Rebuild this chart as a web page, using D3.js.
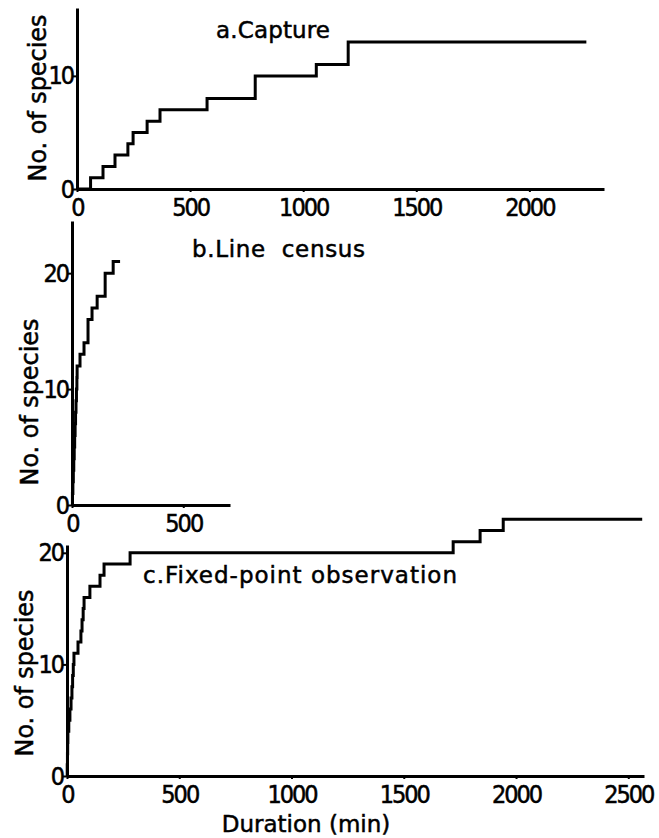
<!DOCTYPE html>
<html>
<head>
<meta charset="utf-8">
<script src="https://cdn.jsdelivr.net/npm/d3@7"></script>
<style>
  html, body { margin: 0; padding: 0; background: #fff; }
  svg { display: block; }
  .tick text { font-family: "DejaVu Sans Condensed", "DejaVu Sans", sans-serif; font-size: 25px; letter-spacing: -2px; fill: #000; stroke: #000; stroke-width: 0.5px; }
  .lbl { font-family: "DejaVu Sans", sans-serif; fill: #000; stroke: #000; stroke-width: 0.5px; white-space: pre; }
</style>
</head>
<body>
<script>
// ---- Data ----
const captureTime    = [0, 60, 115, 168, 225, 248, 310, 367, 575, 788, 1058, 1199, 2252];
const captureSpecies = [0, 1,  2,   3,   4,   5,   6,   7,   8,   10,  11,   13,   13];

const lineTime    = [0, 2, 4, 6, 8, 10, 12, 14, 16, 18, 20, 22, 23, 36, 54, 72, 90, 113, 149, 185, 216];
const lineSpecies = [0, 1, 2, 3, 4, 5,  6,  7,  8,  9,  10, 11, 12, 13, 14, 16, 17, 18,  20,  21,  21];

const fixedTime    = [0, 1, 2, 3, 4, 8, 13, 18, 22, 25, 28, 31, 49, 62, 67, 72, 76, 102, 147, 165, 281, 1720, 1840, 1943, 2562];
const fixedSpecies = [0, 1, 2, 3, 4, 5, 6,  7,  8,  9,  10, 11, 12, 13, 14, 15, 16, 17,  18,  19,  20,  21,   22,   23,   23];

const captureXTicks = [0, 500, 1000, 1500, 2000];
const captureYTicks = [0, 10];
const lineXTicks = [0, 500];
const lineYTicks = [0, 10, 20];
const fixedXTicks = [0, 500, 1000, 1500, 2000, 2500];
const fixedYTicks = [0, 10, 20];

const panelTitles = ["a.Capture", "b.Line  census", "c.Fixed-point observation"];
const yTitle = "No. of species";
const xTitle = "Duration (min)";

// ---- Layout ----
const W = 659, H = 838;
const svg = d3.select("body").append("svg").attr("width", W).attr("height", H);

const panels = [
  { time: captureTime, species: captureSpecies, xTicks: captureXTicks, yTicks: captureYTicks,
    xDomain: [0, 2330], xRange: [77, 604], yDomain: [0, 16], yRange: [189, 8],
    title: panelTitles[0], tx: 216, ty: 38, tw: 114, ylx: 38, yly: 98 },
  { time: lineTime, species: lineSpecies, xTicks: lineXTicks, yTicks: lineYTicks,
    xDomain: [0, 710], xRange: [72, 230], yDomain: [0, 24.5], yRange: [505, 221],
    title: panelTitles[1], tx: 192, ty: 257, tw: 173, ylx: 30, yly: 402 },
  { time: fixedTime, species: fixedSpecies, xTicks: fixedXTicks, yTicks: fixedYTicks,
    xDomain: [0, 2570], xRange: [67, 644], yDomain: [0, 20.7], yRange: [776, 545],
    title: panelTitles[2], tx: 143, ty: 583, tw: 314, ylx: 25, yly: 673 }
];

panels.forEach(p => {
  const x = d3.scaleLinear().domain(p.xDomain).range(p.xRange);
  const y = d3.scaleLinear().domain(p.yDomain).range(p.yRange);
  const g = svg.append("g");

  const pts = p.time.map((t, i) => [t, p.species[i]]);
  g.append("path")
    .datum(pts)
    .attr("fill", "none")
    .attr("stroke", "#000")
    .attr("stroke-width", 3)
    .attr("stroke-linejoin", "miter")
    .attr("d", d3.line().x(d => x(d[0])).y(d => y(d[1])).curve(d3.curveStepAfter));

  const xa = g.append("g")
    .attr("transform", `translate(0,${p.yRange[0]})`)
    .call(d3.axisBottom(x).tickValues(p.xTicks).tickFormat(d3.format("d")).tickSize(3).tickSizeOuter(0).tickPadding(6));
  const ya = g.append("g")
    .attr("transform", `translate(${p.xRange[0]},0)`)
    .call(d3.axisLeft(y).tickValues(p.yTicks).tickFormat(d3.format("d")).tickSize(4).tickSizeOuter(0).tickPadding(0));
  [xa, ya].forEach(a => {
    a.select(".domain").attr("stroke", "#000").attr("stroke-width", 3);
    a.selectAll(".tick line").attr("stroke", "#000").attr("stroke-width", 2);
  });

  g.append("text").attr("class", "lbl")
    .attr("x", p.tx).attr("y", p.ty)
    .attr("font-size", 23)
    .attr("textLength", p.tw)
    .attr("lengthAdjust", "spacing")
    .text(p.title);

  g.append("text").attr("class", "lbl")
    .attr("transform", `translate(${p.ylx},${p.yly}) rotate(-90)`)
    .attr("text-anchor", "middle")
    .attr("dominant-baseline", "central")
    .attr("font-size", 24)
    .attr("textLength", 167)
    .attr("lengthAdjust", "spacing")
    .text(yTitle);
});

svg.append("text").attr("class", "lbl")
  .attr("x", 306).attr("y", 832)
  .attr("text-anchor", "middle")
  .attr("font-size", 23)
  .text(xTitle);
</script>
</body>
</html>
